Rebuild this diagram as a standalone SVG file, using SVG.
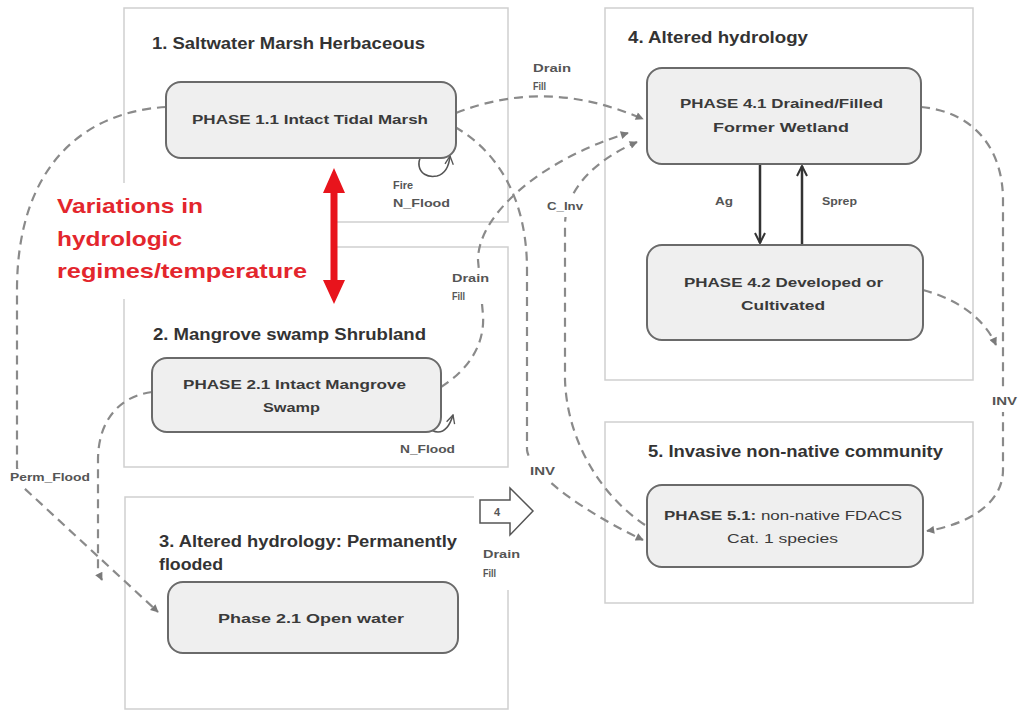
<svg xmlns="http://www.w3.org/2000/svg" width="1020" height="710" viewBox="0 0 1020 710">
<style>
.box{fill:#fff;stroke:#cfcfcf;stroke-width:1.5}
.node{fill:#efefef;stroke:#6a6a6a;stroke-width:2}
.title{font-family:"Liberation Sans",Arial,sans-serif;font-weight:bold;font-size:16px;fill:#333}
.nt{font-family:"Liberation Sans",Arial,sans-serif;font-weight:bold;font-size:13px;fill:#3a3a3a}
.nr{font-family:"Liberation Sans",Arial,sans-serif;font-weight:normal;font-size:13px;fill:#3a3a3a}
.lbl{font-family:"Liberation Sans",Arial,sans-serif;font-weight:bold;font-size:11px;fill:#555}
.red{font-family:"Liberation Sans",Arial,sans-serif;font-weight:bold;font-size:21px;fill:#e3262d}
.dash{fill:none;stroke:#8a8a8a;stroke-width:2.2;stroke-dasharray:9 6}
.solid{fill:none;stroke:#333;stroke-width:2.5}
.loop{fill:none;stroke:#555;stroke-width:1.6}
.bg{fill:#fff}
</style>
<defs>
<marker id="ah" viewBox="0 0 10 10" refX="9" refY="5" markerWidth="9" markerHeight="8" markerUnits="userSpaceOnUse" orient="auto">
<path d="M0,0 L10,5 L0,10 z" fill="#7a7a7a" stroke="none"/>
</marker>
<marker id="ch" viewBox="0 0 12 12" refX="11" refY="6" markerWidth="12" markerHeight="12" markerUnits="userSpaceOnUse" orient="auto">
<path d="M1,1 L11,6 L1,11" fill="none" stroke="#333" stroke-width="2"/>
</marker>
<marker id="ch2" viewBox="0 0 12 12" refX="11" refY="6" markerWidth="10" markerHeight="10" markerUnits="userSpaceOnUse" orient="auto">
<path d="M1,1 L11,6 L1,11" fill="none" stroke="#555" stroke-width="1.6"/>
</marker>
</defs>

<g id="box1"><rect class="box" x="124" y="8" width="384" height="214"/>
<text class="title" x="152" y="49" textLength="273" lengthAdjust="spacingAndGlyphs">1. Saltwater Marsh Herbaceous</text></g>
<g id="box2"><rect class="box" x="124" y="247" width="384" height="220"/>
<text class="title" x="153" y="340" textLength="273" lengthAdjust="spacingAndGlyphs">2. Mangrove swamp Shrubland</text></g>
<g id="box3"><rect class="box" x="125" y="497" width="383" height="212"/>
<text class="title" x="159" y="547" textLength="298" lengthAdjust="spacingAndGlyphs">3. Altered hydrology: Permanently</text>
<text class="title" x="159" y="570" textLength="64" lengthAdjust="spacingAndGlyphs">flooded</text></g>
<g id="box4"><rect class="box" x="605" y="8" width="368" height="372"/>
<text class="title" x="628" y="43" textLength="180" lengthAdjust="spacingAndGlyphs">4. Altered hydrology</text></g>
<g id="box5"><rect class="box" x="605" y="422" width="368" height="181"/>
<text class="title" x="648" y="457" textLength="295" lengthAdjust="spacingAndGlyphs">5. Invasive non-native community</text></g>

<g id="variations">
<rect class="bg" x="50" y="183" width="282" height="116"/>
<text class="red" x="57" y="213" textLength="146" lengthAdjust="spacingAndGlyphs">Variations in</text>
<text class="red" x="57" y="246" textLength="125" lengthAdjust="spacingAndGlyphs">hydrologic</text>
<text class="red" x="57" y="278" textLength="250" lengthAdjust="spacingAndGlyphs">regimes/temperature</text>
<polygon points="334,168 345,193 337.5,193 337.5,280 345,280 334,304 323,280 330.5,280 330.5,193 323,193" fill="#e8141c"/>
</g>

<g id="drainfill-bg"><rect class="bg" x="474" y="486" width="62" height="104"/></g>

<g id="connectors">
<path class="dash" d="M166,107 C80,112 17,170 17,290 L17,468 L24,488 L158,612" marker-end="url(#ah)"/>
<path class="dash" d="M152,392 C120,396 98,420 98,460 L98,572 L102,580" marker-end="url(#ah)"/>
<path class="dash" d="M456,113 C520,88 580,92 643,119" marker-end="url(#ah)"/>
<path class="dash" d="M455,127 C495,150 527,195 527,270 L527,450 C530,475 590,515 643,540" marker-end="url(#ah)"/>
<path class="dash" d="M441,387 C468,370 485,345 483,315 L478,260 C478,215 540,160 628,133" marker-end="url(#ah)"/>
<path class="dash" d="M645,525 C600,495 567,440 565,380 L565,225 C565,190 595,160 637,142" marker-end="url(#ah)"/>
<path class="dash" d="M921,107 C975,112 1003,150 1003,200 L1003,470 C1003,505 965,525 927,531" marker-end="url(#ah)"/>
<path class="dash" d="M923,290 C960,300 985,320 996,345" marker-end="url(#ah)"/>
<path class="solid" d="M760,164 L760,243" marker-end="url(#ch)"/>
<path class="solid" d="M802,245 L802,166" marker-end="url(#ch)"/>
<path class="loop" d="M432,148 C412,155 416,180 437,176 C445,174 449,166 450,156" marker-end="url(#ch2)"/>
<path class="loop" d="M438,402 C422,402 422,432 438,432 C446,432 450,425 453,415" marker-end="url(#ch2)"/>
<polygon points="480,500 510,500 510,488 533,511 510,535 510,523 480,523" fill="#fff" stroke="#555" stroke-width="1.5"/>
<text class="lbl" x="497" y="516" text-anchor="middle">4</text>
</g>

<g id="labels">
<rect class="bg" x="8" y="469" width="84" height="16"/>
<text class="lbl" x="10" y="481" textLength="80" lengthAdjust="spacingAndGlyphs">Perm_Flood</text>
<text class="lbl" x="533" y="72" textLength="38" lengthAdjust="spacingAndGlyphs">Drain</text>
<text class="lbl" x="533" y="90" textLength="13" lengthAdjust="spacingAndGlyphs">Fill</text>
<text class="lbl" x="393" y="189" textLength="20" lengthAdjust="spacingAndGlyphs">Fire</text>
<text class="lbl" x="393" y="207" textLength="57" lengthAdjust="spacingAndGlyphs">N_Flood</text>
<text class="lbl" x="400" y="453" textLength="55" lengthAdjust="spacingAndGlyphs">N_Flood</text>
<rect class="bg" x="450" y="271" width="42" height="33"/>
<text class="lbl" x="452" y="282" textLength="37" lengthAdjust="spacingAndGlyphs">Drain</text>
<text class="lbl" x="452" y="300" textLength="13" lengthAdjust="spacingAndGlyphs">Fill</text>
<rect class="bg" x="545" y="195" width="40" height="22"/>
<text class="lbl" x="547" y="210" textLength="36" lengthAdjust="spacingAndGlyphs">C_Inv</text>
<rect class="bg" x="522" y="460" width="38" height="22"/>
<text class="lbl" x="530" y="475" textLength="25" lengthAdjust="spacingAndGlyphs">INV</text>
<rect class="bg" x="990" y="390" width="30" height="22"/>
<text class="lbl" x="992" y="405" textLength="25" lengthAdjust="spacingAndGlyphs">INV</text>
<text class="lbl" x="483" y="558" textLength="37" lengthAdjust="spacingAndGlyphs">Drain</text>
<text class="lbl" x="483" y="577" textLength="13" lengthAdjust="spacingAndGlyphs">Fill</text>
<text class="lbl" x="715" y="205" textLength="18" lengthAdjust="spacingAndGlyphs">Ag</text>
<text class="lbl" x="822" y="205" textLength="35" lengthAdjust="spacingAndGlyphs">Sprep</text>
</g>

<g id="n11"><rect class="node" x="166" y="82" width="290" height="76" rx="15"/>
<text class="nt" x="192" y="124" textLength="236" lengthAdjust="spacingAndGlyphs">PHASE 1.1 Intact Tidal  Marsh</text></g>
<g id="n21"><rect class="node" x="152" y="358" width="289" height="74" rx="15"/>
<text class="nt" x="183" y="389" textLength="223" lengthAdjust="spacingAndGlyphs">PHASE 2.1 Intact Mangrove</text>
<text class="nt" x="263" y="412" textLength="57" lengthAdjust="spacingAndGlyphs">Swamp</text></g>
<g id="n3"><rect class="node" x="168" y="582" width="290" height="71" rx="15"/>
<text class="nt" x="218" y="623" textLength="186" lengthAdjust="spacingAndGlyphs">Phase 2.1  Open water</text></g>
<g id="n41"><rect class="node" x="647" y="68" width="274" height="96" rx="15"/>
<text class="nt" x="680" y="108" textLength="203" lengthAdjust="spacingAndGlyphs">PHASE 4.1 Drained/Filled</text>
<text class="nt" x="713" y="132" textLength="136" lengthAdjust="spacingAndGlyphs">Former Wetland</text></g>
<g id="n42"><rect class="node" x="647" y="245" width="276" height="95" rx="15"/>
<text class="nt" x="684" y="287" textLength="199" lengthAdjust="spacingAndGlyphs">PHASE 4.2 Developed or</text>
<text class="nt" x="741" y="310" textLength="84" lengthAdjust="spacingAndGlyphs">Cultivated</text></g>
<g id="n51"><rect class="node" x="647" y="485" width="276" height="82" rx="15"/>
<text x="664" y="520" textLength="238" lengthAdjust="spacingAndGlyphs" style="font-family:'Liberation Sans',Arial,sans-serif;font-size:13px;fill:#3a3a3a"><tspan font-weight="bold">PHASE 5.1:</tspan> non-native FDACS</text>
<text class="nr" x="727" y="543" textLength="111" lengthAdjust="spacingAndGlyphs">Cat. 1 species</text></g>
</svg>
